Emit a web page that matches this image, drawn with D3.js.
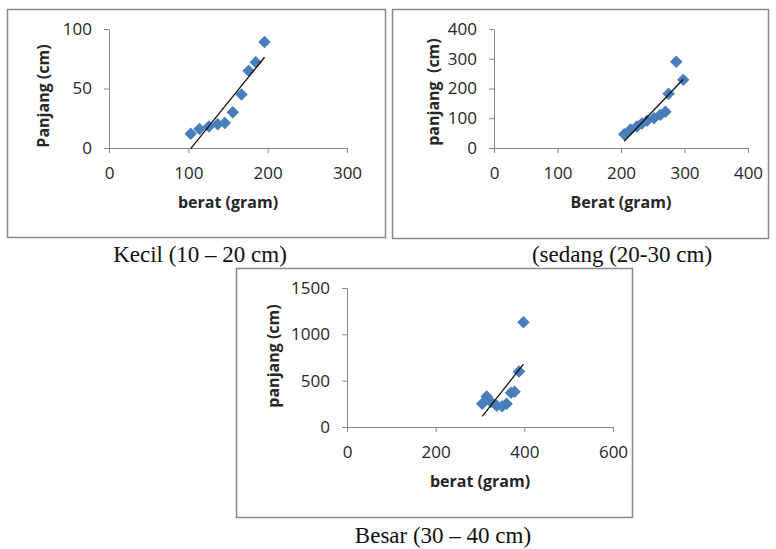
<!DOCTYPE html>
<html>
<head>
<meta charset="utf-8">
<script src="https://cdn.jsdelivr.net/npm/d3@7"></script>
<style>
  body { margin: 0; background: #fff; }
  .tick text { font-family: "Open Sans", sans-serif; font-size: 17px; fill: #262626; }
  .axis path, .axis line { stroke: #868686; }
</style>
</head>
<body>
<div id="chart"></div>
<script>
// data
var kecilBerat    = [103, 114, 126, 137, 146, 156, 167, 176, 185, 196];
var kecilPanjang  = [12, 16, 18, 20, 21, 30, 45, 65, 72, 89];

var sedangBerat   = [205, 215, 225, 233, 241, 252, 262, 270, 275, 287, 298];
var sedangPanjang = [46, 62, 72, 82, 92, 100, 112, 122, 182, 290, 229];

var besarBerat    = [305, 315, 325, 338, 350, 360, 370, 378, 388, 398];
var besarPanjang  = [250, 330, 270, 230, 225, 250, 370, 380, 600, 1130];

var kecilXTicks  = [0, 100, 200, 300],  kecilYTicks  = [0, 50, 100];
var sedangXTicks = [0, 100, 200, 300, 400], sedangYTicks = [0, 100, 200, 300, 400];
var besarXTicks  = [0, 200, 400, 600],  besarYTicks  = [0, 500, 1000, 1500];

var svgWidth = 776;
var svgHeight = 549;

var svg = d3.select("#chart")
  .append("svg")
  .attr("width", svgWidth)
  .attr("height", svgHeight);

// layout of each small chart (box, plot area, text positions)
var panels = [
  { x: kecilBerat, y: kecilPanjang, xTicks: kecilXTicks, yTicks: kecilYTicks,
    box: [7.5, 9.5, 378, 228], plot: [109, 29, 347, 148],
    yTitle: "Panjang (cm)", yTitleX: 43, yTitleY: 96,
    xTitle: "berat (gram)", caption: "Kecil (10 \u2013 20 cm)", capX: 200, capY: 262 },
  { x: sedangBerat, y: sedangPanjang, xTicks: sedangXTicks, yTicks: sedangYTicks,
    box: [392.5, 9.5, 376, 229], plot: [494, 29, 748, 148],
    yTitle: "panjang  (cm)", yTitleX: 433, yTitleY: 92,
    xTitle: "Berat (gram)", caption: "(sedang (20-30 cm)", capX: 622, capY: 262 },
  { x: besarBerat, y: besarPanjang, xTicks: besarXTicks, yTicks: besarYTicks,
    box: [236.5, 268.5, 396, 249], plot: [347, 288, 613, 427],
    yTitle: "panjang (cm)", yTitleX: 273, yTitleY: 356,
    xTitle: "berat (gram)", caption: "Besar (30 \u2013 40 cm)", capX: 443, capY: 543 }
];

// simple least squares for the excel-style trendline
function linReg(xs, ys) {
  var mx = d3.mean(xs), my = d3.mean(ys);
  var sxy = d3.sum(xs, (v, i) => (v - mx) * (ys[i] - my));
  var sxx = d3.sum(xs, v => (v - mx) * (v - mx));
  var slope = sxy / sxx;
  return { slope: slope, intercept: my - slope * mx };
}

var diamond = d3.symbol().type(d3.symbolSquare).size(78);

panels.forEach(function(p) {
  var g = svg.append("g");

  g.append("rect")
    .attr("x", p.box[0]).attr("y", p.box[1])
    .attr("width", p.box[2]).attr("height", p.box[3])
    .attr("fill", "#fff")
    .attr("stroke", "#8a8a8a")
    .attr("stroke-width", 1.5);

  var xScale = d3.scaleLinear()
    .domain([p.xTicks[0], p.xTicks[p.xTicks.length - 1]])
    .range([p.plot[0], p.plot[2]]);
  var yScale = d3.scaleLinear()
    .domain([p.yTicks[0], p.yTicks[p.yTicks.length - 1]])
    .range([p.plot[3], p.plot[1]]);

  g.append("g")
    .attr("class", "axis")
    .attr("transform", `translate(0, ${p.plot[3]})`)
    .call(d3.axisBottom(xScale).tickValues(p.xTicks).tickFormat(d3.format("d"))
      .tickSize(5).tickSizeOuter(0).tickPadding(14));

  g.append("g")
    .attr("class", "axis")
    .attr("transform", `translate(${p.plot[0]}, 0)`)
    .call(d3.axisLeft(yScale).tickValues(p.yTicks).tickFormat(d3.format("d"))
      .tickSize(5).tickSizeOuter(0).tickPadding(12));

  // points
  var pts = p.x.map((v, i) => ({ x: v, y: p.y[i] }));
  g.selectAll("path.pt")
    .data(pts)
    .enter()
    .append("path")
    .attr("class", "pt")
    .attr("d", diamond)
    .attr("transform", d => `translate(${xScale(d.x)}, ${yScale(d.y)}) rotate(45)`)
    .attr("fill", "#4a7ebb");

  // trendline from min to max x
  var fit = linReg(p.x, p.y);
  var x0 = d3.min(p.x), x1 = d3.max(p.x);
  g.append("line")
    .attr("x1", xScale(x0)).attr("y1", yScale(fit.intercept + fit.slope * x0))
    .attr("x2", xScale(x1)).attr("y2", yScale(fit.intercept + fit.slope * x1))
    .attr("stroke", "#111")
    .attr("stroke-width", 1.3);

  // axis titles
  g.append("text")
    .attr("x", (p.plot[0] + p.plot[2]) / 2)
    .attr("y", p.plot[3] + 60)
    .attr("text-anchor", "middle")
    .attr("font-family", "Open Sans, sans-serif")
    .attr("font-weight", "bold")
    .attr("font-size", "16px")
    .attr("fill", "#262626")
    .text(p.xTitle);

  g.append("text")
    .attr("transform", `translate(${p.yTitleX}, ${p.yTitleY}) rotate(-90)`)
    .attr("dy", "0.35em")
    .attr("text-anchor", "middle")
    .attr("font-family", "Open Sans, sans-serif")
    .attr("font-weight", "bold")
    .attr("font-size", "16px")
    .attr("fill", "#262626")
    .style("white-space", "pre")
    .text(p.yTitle);

  // caption under each box
  svg.append("text")
    .attr("x", p.capX)
    .attr("y", p.capY)
    .attr("text-anchor", "middle")
    .attr("font-family", "Liberation Serif, serif")
    .attr("font-size", "23px")
    .attr("fill", "#111")
    .text(p.caption);
});
</script>
</body>
</html>
